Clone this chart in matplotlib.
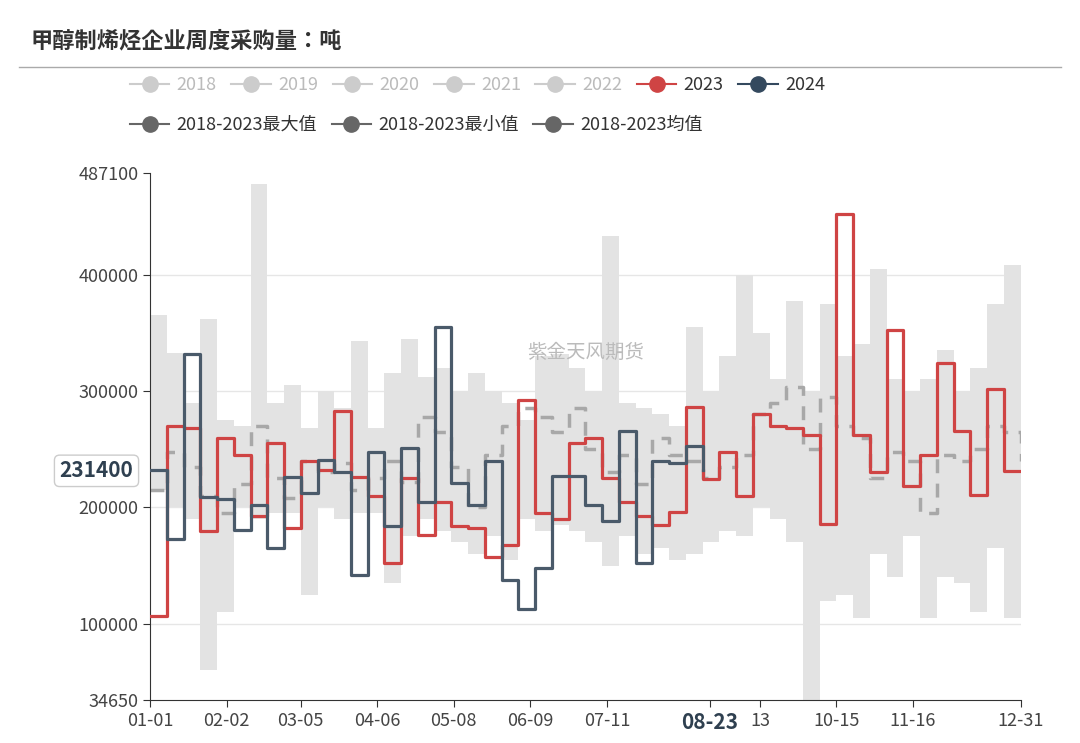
import matplotlib
matplotlib.use("Agg")
import matplotlib.pyplot as plt
from matplotlib import font_manager
from matplotlib.lines import Line2D
import numpy as np

cjk = sorted({f.name for f in font_manager.fontManager.ttflist if "CJK" in f.name and "Sans" in f.name})
pref = [n for n in ["Noto Sans CJK SC", "Noto Sans CJK JP", "Noto Sans CJK TC", "Noto Sans CJK KR"] if n in cjk]
fam = pref[0] if pref else (cjk[0] if cjk else "Noto Sans CJK SC")
plt.rcParams['font.family'] = [fam, 'DejaVu Sans']

title = "甲醇制烯烃企业周度采购量：吨"
tick_days = [1, 33, 64, 96, 128, 160, 192, 235, 256, 288, 320, 365]
tick_labels = ["01-01", "02-02", "03-05", "04-06", "05-08", "06-09", "07-11", "08-23", "13", "10-15", "11-16", "12-31"]
y_ticks = [34650, 100000, 200000, 300000, 400000, 487100]

s2023 = [107000, 270000, 268000, 180000, 260000, 245000, 193000, 255000, 182000, 240000,
         232000, 283000, 226000, 210000, 152000, 225000, 176000, 205000, 184000, 182000,
         157000, 168000, 292000, 195000, 190000, 255000, 260000, 225000, 205000, 193000,
         185000, 196000, 286000, 224000, 248000, 210000, 280000, 270000, 268000, 262000,
         186000, 452000, 262000, 230000, 352000, 218000, 245000, 324000, 266000, 211000,
         302000, 231400, 231400]
s2024 = [232000, 173000, 332000, 209000, 207000, 181000, 202000, 165000, 226000, 212000,
         241000, 230000, 142000, 248000, 184000, 251000, 205000, 355000, 221000, 202000,
         240000, 138000, 113000, 148000, 227000, 227000, 202000, 188000, 266000, 152000,
         240000, 238000, 253000, 232000]
smax = [365000, 333000, 290000, 362000, 275000, 270000, 478000, 290000, 305000, 268000,
        300000, 285000, 343000, 268000, 315000, 345000, 312000, 320000, 300000, 315000,
        300000, 290000, 275000, 330000, 332000, 320000, 300000, 433000, 290000, 285000,
        280000, 270000, 355000, 300000, 330000, 400000, 350000, 310000, 377000, 300000,
        375000, 330000, 340000, 405000, 310000, 300000, 310000, 335000, 300000, 320000,
        375000, 408000, 408000]
smin = [215000, 200000, 190000, 60000, 110000, 200000, 190000, 195000, 195000, 125000,
        200000, 190000, 195000, 195000, 135000, 175000, 190000, 180000, 170000, 160000,
        175000, 155000, 190000, 180000, 185000, 180000, 170000, 150000, 175000, 160000,
        165000, 155000, 160000, 170000, 180000, 175000, 200000, 190000, 170000, 30000,
        120000, 125000, 105000, 160000, 140000, 175000, 105000, 140000, 135000, 110000,
        165000, 105000, 105000]
savg = [215000, 248000, 235000, 210000, 195000, 220000, 270000, 225000, 208000, 240000,
        230000, 238000, 215000, 225000, 240000, 222000, 278000, 265000, 235000, 200000,
        245000, 270000, 285000, 278000, 265000, 285000, 250000, 230000, 245000, 220000,
        260000, 245000, 240000, 225000, 235000, 245000, 280000, 290000, 303000, 250000,
        295000, 270000, 260000, 225000, 248000, 240000, 195000, 245000, 240000, 250000,
        270000, 265000, 240000]

fig = plt.figure(figsize=(10.8, 7.43), dpi=100)
ax = fig.add_axes([0.139, 0.058, 0.806, 0.709])

wk = lambda n: np.minimum(1 + 7 * np.arange(n), 365)
xb = wk(len(smax))
ax.fill_between(xb, smin, smax, step="post", color="#e3e3e3", lw=0, zorder=1)
ax.plot(xb, savg, drawstyle="steps-post", color="#a8a8a8", lw=2.5, ls=(0, (4, 3)), zorder=2)
ax.plot(wk(len(s2023)), s2023, drawstyle="steps-post", color="#cf4444", lw=2.3, zorder=4)
ax.plot(wk(len(s2024)), s2024, drawstyle="steps-post", color="#4a5a6a", lw=2.3, zorder=5)

ax.set_xlim(1, 365)
ax.set_ylim(34650, 487100)
ax.set_yticks(y_ticks)
ax.set_yticklabels([str(v) for v in y_ticks], fontsize=13, color="#444")
for v in [100000, 200000, 300000, 400000]:
    ax.axhline(v, color="#e6e6e6", lw=1, zorder=0)
ax.set_xticks(tick_days)
ax.set_xticklabels(tick_labels, fontsize=13, color="#444")
lab = ax.get_xticklabels()[7]
lab.set_fontweight("bold"); lab.set_color("#2f4050"); lab.set_fontsize(15)
for s in ["top", "right"]:
    ax.spines[s].set_visible(False)
ax.spines["left"].set_color("#333")
ax.spines["bottom"].set_color("#333")
ax.tick_params(length=5, color="#333")

ax.text(-6, 231400, "231400", ha="right", va="center", fontsize=15, fontweight="bold",
        color="#2f4050", bbox=dict(boxstyle="round,pad=0.25", fc="white", ec="#cccccc"))
ax.text(0.5, 0.66, "紫金天风期货", transform=ax.transAxes, ha="center", va="center",
        fontsize=14, color="#bbbbbb", zorder=6)

fig.text(0.028, 0.945, title, fontsize=16, fontweight="bold", color="#333", va="center")
fig.add_artist(Line2D([0.018, 0.982], [0.91, 0.91], color="#aaa", lw=1))

def h(c):
    return Line2D([], [], color=c, marker="o", markersize=11, lw=1.5)
row1 = [("2018", "#cccccc", "#bbbbbb"), ("2019", "#cccccc", "#bbbbbb"), ("2020", "#cccccc", "#bbbbbb"),
        ("2021", "#cccccc", "#bbbbbb"), ("2022", "#cccccc", "#bbbbbb"), ("2023", "#cf4444", "#333"),
        ("2024", "#34495e", "#333")]
row2 = [("2018-2023最大值", "#666", "#333"), ("2018-2023最小值", "#666", "#333"), ("2018-2023均值", "#666", "#333")]
for row, y, x0 in [(row1, 0.885, 0.105), (row2, 0.832, 0.105)]:
    leg = fig.legend([h(c) for _, c, _ in row], [t for t, _, _ in row], loc="center left",
                     bbox_to_anchor=(x0, y), ncol=len(row), frameon=False, fontsize=13,
                     handlelength=2.2, columnspacing=0.8, handletextpad=0.4)
    for t, (_, _, tc) in zip(leg.get_texts(), row):
        t.set_color(tc)

fig.savefig("out.png", dpi=100)
